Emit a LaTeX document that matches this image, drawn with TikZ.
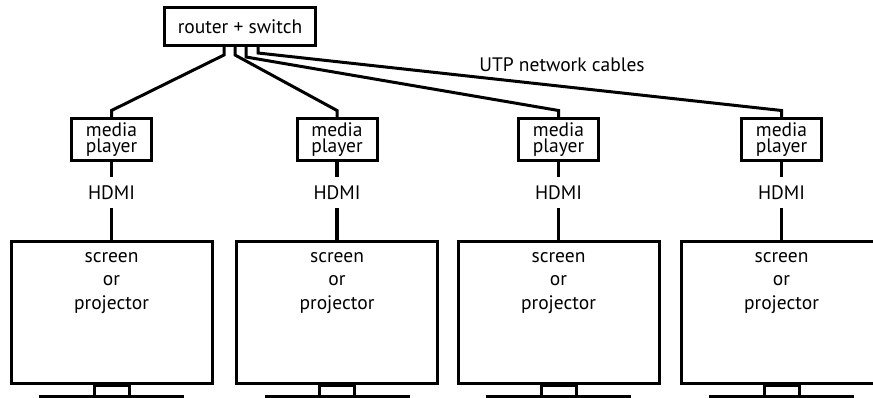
\documentclass[tikz,border=0pt]{standalone}
\usepackage{fontspec}
\setmainfont{PT Sans}
\begin{document}
\begin{tikzpicture}[x=1pt,y=-1pt,
  box/.style={draw, line width=3pt, inner sep=0pt, fill=white},
  cable/.style={line width=3pt},
  hdmiline/.style={line width=3.5pt},
  lbl/.style={inner sep=0pt, font=\fontsize{19.5}{17}\selectfont},
  mpbox/.style={box, minimum width=80pt, minimum height=42pt, align=center, font=\fontsize{19.5}{16.5}\selectfont},
  screenbox/.style={box, minimum width=201pt, minimum height=142pt},
  scrtext/.style={inner sep=0pt, align=center, font=\fontsize{19.5}{23.5}\selectfont},
  standbox/.style={draw, line width=3pt, inner sep=0pt, minimum width=35pt, minimum height=12pt, fill=white},
  basebar/.style={fill=black, inner sep=0pt, minimum width=145pt, minimum height=3pt}]
\useasboundingbox (0,0) rectangle (873,398);
\clip (0,0) rectangle (873,398);

\node[box, minimum width=151pt, minimum height=38pt, font=\fontsize{19.5}{17}\selectfont] (router) at (240,26.5) {router + switch};

\foreach \i/\x in {1/111.5, 2/337, 3/558.5, 4/781.5}{
  \node[mpbox] (mp\i) at (\x,139.5) {media\\player};
  \node[lbl, minimum height=31pt] (hdmi\i) at (\x,192.5) {HDMI};
  \node[screenbox] (scr\i) at (\x,312.5) {};
  \node[scrtext] (scrt\i) at (\x,283) {screen\\or\\projector};
  \node[standbox, anchor=north] (stand\i) at ([yshift=1.5pt]scr\i.south) {};
  \node[basebar] (base\i) at (\x,396.5) {};
  \draw[hdmiline] (mp\i.south) -- (hdmi\i.north);
  \draw[hdmiline] (hdmi\i.south) -- (scr\i.north);
}

\draw[cable] ([xshift=-16pt]router.south) -- ++(0,8) -- ([yshift=6.5pt]mp1.north) -- (mp1.north);
\draw[cable] ([xshift=-5pt]router.south) -- ++(0,8) -- ([yshift=6.5pt]mp2.north) -- (mp2.north);
\draw[cable] ([xshift=6pt]router.south) -- ++(0,10) -- ([yshift=6.5pt]mp3.north) -- (mp3.north);
\draw[cable] ([xshift=18pt]router.south) -- ++(0,6) -- ([yshift=6.5pt]mp4.north) -- (mp4.north);

\node[lbl, anchor=base] (utp) at (562,72) {UTP network cables};
\end{tikzpicture}
\end{document}
